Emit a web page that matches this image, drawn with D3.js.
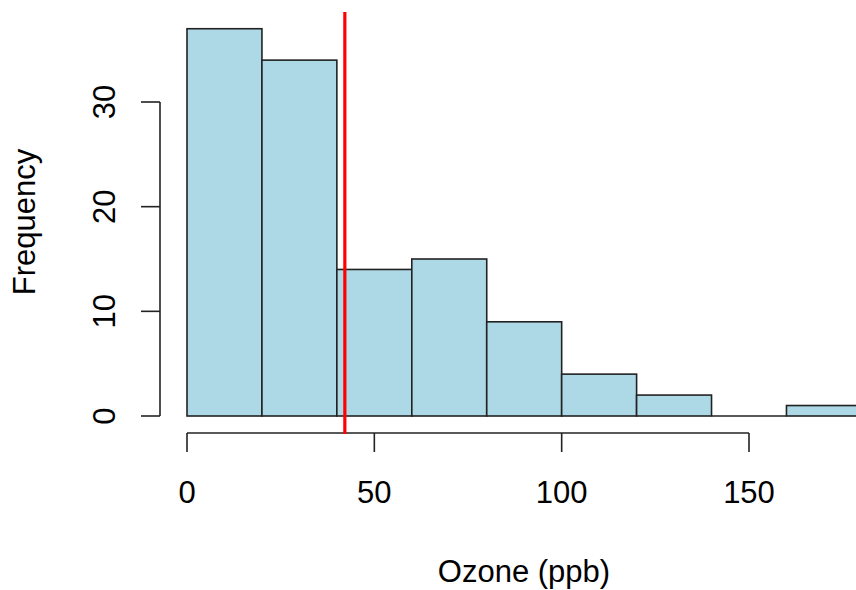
<!DOCTYPE html>
<html><head><meta charset="utf-8">
<script src="https://cdn.jsdelivr.net/npm/d3@7"></script>
<style>body{margin:0;background:#fff}svg{display:block}text{font-family:"Liberation Sans",Arial,sans-serif;fill:#000}</style>
</head><body>
<script>
const binStarts = [0,20,40,60,80,100,120,140,160];
const binWidth = 20;
const counts = [37,34,14,15,9,4,2,0,1];
const xTicks = [0,50,100,150];
const yTicks = [0,10,20,30];
const meanOzone = 42.12931;
const xLabel = "Ozone (ppb)";
const yLabel = "Frequency";

const W=856,H=590;
const svg=d3.select("body").append("svg").attr("width",W).attr("height",H);
const x=d3.scaleLinear().domain([0,150]).range([187,749]);
const y=d3.scaleLinear().domain([0,30]).range([416,102]);
const fs=31;

svg.append("g").selectAll("rect").data(counts).join("rect")
 .attr("x",(d,i)=>x(binStarts[i]))
 .attr("width",(d,i)=>x(binStarts[i]+binWidth)-x(binStarts[i]))
 .attr("y",d=>y(d)).attr("height",d=>y(0)-y(d))
 .attr("fill","#add8e6").attr("stroke","#222").attr("stroke-width",1.6);
// zero-height bins still draw their baseline edge
svg.append("g").selectAll("line").data(counts.map((d,i)=>({d,i})).filter(o=>o.d===0)).join("line")
 .attr("x1",o=>x(binStarts[o.i])).attr("x2",o=>x(binStarts[o.i]+binWidth))
 .attr("y1",y(0)).attr("y2",y(0)).attr("stroke","#222").attr("stroke-width",1.6);

// x axis
const xa=svg.append("g").attr("transform","translate(0,433)");
xa.append("line").attr("x1",x(xTicks[0])).attr("x2",x(xTicks[xTicks.length-1])).attr("stroke","#222").attr("stroke-width",1.6);
xa.selectAll("line.t").data(xTicks).join("line").attr("class","t").attr("x1",d=>x(d)).attr("x2",d=>x(d)).attr("y1",0).attr("y2",19).attr("stroke","#222").attr("stroke-width",1.6);
xa.selectAll("text").data(xTicks).join("text").attr("x",d=>x(d)).attr("y",70).attr("text-anchor","middle").attr("font-size",fs).text(d=>d);

// y axis
const ya=svg.append("g").attr("transform","translate(160,0)");
ya.append("line").attr("y1",y(yTicks[0])).attr("y2",y(yTicks[yTicks.length-1])).attr("stroke","#222").attr("stroke-width",1.6);
ya.selectAll("line.t").data(yTicks).join("line").attr("class","t").attr("y1",d=>y(d)).attr("y2",d=>y(d)).attr("x1",0).attr("x2",-19).attr("stroke","#222").attr("stroke-width",1.6);
ya.selectAll("text").data(yTicks).join("text").attr("transform",d=>`translate(-45,${y(d)}) rotate(-90)`).attr("text-anchor","middle").attr("font-size",fs).text(d=>d);

svg.append("text").attr("x",524).attr("y",582).attr("text-anchor","middle").attr("font-size",fs).text(xLabel);
svg.append("text").attr("transform","translate(35,222) rotate(-90)").attr("text-anchor","middle").attr("font-size",fs).text(yLabel);

svg.append("line").attr("x1",x(meanOzone)).attr("x2",x(meanOzone)).attr("y1",12).attr("y2",434).attr("stroke","#ff0000").attr("stroke-width",3.2);
</script>
</body></html>
